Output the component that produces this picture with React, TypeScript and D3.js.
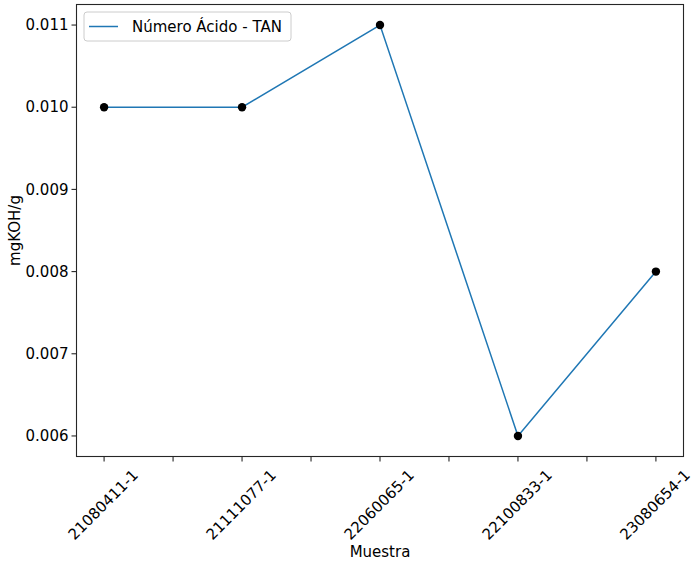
import React from "react";
import * as d3 from "d3";

const categories = ["21080411-1", "21111077-1", "22060065-1", "22100833-1", "23080654-1"];
const tanValues = [0.010, 0.010, 0.011, 0.006, 0.008];
const yTicks = [0.006, 0.007, 0.008, 0.009, 0.010, 0.011];
const xTicks = [0, 0.5, 1, 1.5, 2, 2.5, 3, 3.5, 4];
const seriesName = "Número Ácido - TAN";

const W = 691, H = 566;
const L = 76.5, R = 683.5, T = 4.5, B = 456.5;
const font = "DejaVu Sans, sans-serif";

export default function App() {
  const x = d3.scaleLinear().domain([-0.2, 4.2]).range([L, R]);
  const y = d3.scaleLinear().domain([0.00575, 0.01125]).range([B, T]);
  const line = d3.line<number>().x((_, i) => x(i)).y(d => y(d));
  const fs = 15;
  const labelW = 91, labelH = 17;
  const half = ((labelW + labelH) * Math.SQRT1_2) / 2;
  return (
    <svg width={W} height={H} style={{ position: "absolute", left: 0, top: 0, background: "#fff" }} fontFamily={font}>
      <rect x={0} y={0} width={W} height={H} fill="#fff" />
      <path d={line(tanValues) || ""} fill="none" stroke="#1f77b4" strokeWidth={1.5} />
      {tanValues.map((v, i) => (
        <circle key={i} cx={x(i)} cy={y(v)} r={4.2} fill="#000" />
      ))}
      <rect x={L} y={T} width={R - L} height={B - T} fill="none" stroke="#262626" strokeWidth={1.1} />
      {yTicks.map(t => (
        <g key={t}>
          <line x1={L - 5} x2={L} y1={y(t)} y2={y(t)} stroke="#262626" strokeWidth={1.1} />
          <text x={L - 8} y={y(t)} dy="0.35em" textAnchor="end" fontSize={fs} fill="#000">{d3.format(".3f")(t)}</text>
        </g>
      ))}
      {xTicks.map(t => (
        <line key={t} x1={x(t)} x2={x(t)} y1={B} y2={B + 5} stroke="#262626" strokeWidth={1.1} />
      ))}
      {categories.map((c, i) => (
        <g key={c} transform={`translate(${x(i) - 1},${B + 10 + half}) rotate(-45)`}>
          <text textAnchor="middle" dy="0.35em" fontSize={fs} fill="#000">{c}</text>
        </g>
      ))}
      <text x={(L + R) / 2} y={557} textAnchor="middle" fontSize={fs} fill="#000">Muestra</text>
      <text transform={`translate(20,${(T + B) / 2}) rotate(-90)`} textAnchor="middle" fontSize={fs} fill="#000">mgKOH/g</text>
      <g>
        <rect x={84} y={12} width={207} height={29} rx={3} fill="#fff" fillOpacity={0.8} stroke="#cccccc" strokeWidth={1} />
        <line x1={89} x2={118} y1={26.5} y2={26.5} stroke="#1f77b4" strokeWidth={1.5} />
        <text x={132} y={26.5} dy="0.35em" fontSize={fs} fill="#000">{seriesName}</text>
      </g>
    </svg>
  );
}
